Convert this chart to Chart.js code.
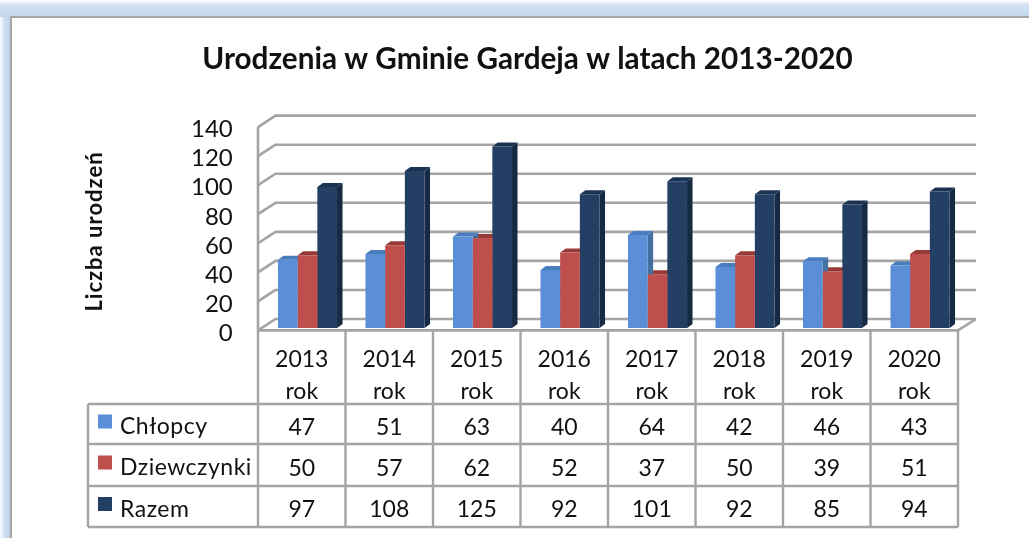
<!DOCTYPE html>
<html><head><meta charset="utf-8">
<style>
html,body{margin:0;padding:0;background:#fff;width:1029px;height:538px;overflow:hidden}
#band{position:absolute;left:0;top:0;width:1029px;height:538px;background:linear-gradient(to bottom,#fff 0,#d3e2f3 5px,#c3d7ee 16px,#c3d7ee 100%)}
#side{position:absolute;left:0;top:17px;width:11px;height:521px;background:linear-gradient(to right,#fff 0,#d3e2f3 4px,#bcd2ec 10px)}
#inner{position:absolute;left:10px;top:16px;width:1019px;height:522px;background:#fff;border-left:2px solid #a6a6a6;border-top:2px solid #a6a6a6;box-sizing:border-box}
canvas{position:absolute;left:0;top:0;filter:blur(0.45px)}
</style>
<script src="https://cdn.jsdelivr.net/npm/chart.js@4"></script>
</head><body>
<div id="band"></div><div id="side"></div><div id="inner"></div>
<canvas id="c" width="1029" height="538"></canvas>
<script>
const titleText = 'Urodzenia w Gminie Gardeja w latach 2013-2020';
const yTitle = 'Liczba urodzeń';
const years = ['2013','2014','2015','2016','2017','2018','2019','2020'];
const unit = 'rok';
const boys = [47,51,63,40,64,42,46,43];
const girls = [50,57,62,52,37,50,39,51];
const total = [97,108,125,92,101,92,85,94];
const seriesNames = ['Chłopcy','Dziewczynki','Razem'];
const seriesValues = [boys,girls,total];
const colors = ['#5a8fd8','#bf4f4c','#233f63'];
const topColors = ['#4a7cc0','#973b39','#1b3352'];
const sideColors = ['#44709f','#8a3533','#162a44'];
const FONT = 'Lato, Carlito, sans-serif';
const GRID = '#a4a4a4';

// geometry of the pseudo-3D room and the data table (offsets, not data)
const barShift = 5.75, depthX = 5.5, depthY = 4;
const tableRows = [404,444,486,527], tableLeft = 88;

const room = {
  id:'room',
  beforeDatasetsDraw(chart){
    const {ctx,scales:{x,y}} = chart;
    const l = x.left - barShift, r = x.right - barShift;
    ctx.save();
    ctx.strokeStyle = GRID; ctx.lineWidth = 2.6; ctx.lineJoin='round';
    y.ticks.forEach(t=>{
      const p = y.getPixelForValue(t.value);
      ctx.beginPath();
      ctx.moveTo(l, p+2.4);
      ctx.lineTo(l+17.5, p-9);
      ctx.lineTo(r+18, p-9);
      ctx.stroke();
    });
    const p0 = y.getPixelForValue(0), pm = y.getPixelForValue(y.max);
    ctx.beginPath();
    ctx.moveTo(l, pm+2.4); ctx.lineTo(l, p0+2.4); ctx.lineTo(r, p0+2.4); ctx.lineTo(r+18, p0-9);
    ctx.stroke();
    // depth faces, back series first
    for(let d=chart.data.datasets.length-1;d>=0;d--){
      chart.getDatasetMeta(d).data.forEach(b=>{
        const L=b.x-b.width/2, R=b.x+b.width/2, T=b.y, B=b.base;
        ctx.fillStyle = sideColors[d];
        ctx.beginPath();
        ctx.moveTo(R,T); ctx.lineTo(R+depthX,T-depthY); ctx.lineTo(R+depthX,B-depthY); ctx.lineTo(R,B); ctx.closePath(); ctx.fill();
        ctx.fillStyle = topColors[d];
        ctx.beginPath();
        ctx.moveTo(L,T); ctx.lineTo(L+depthX,T-depthY); ctx.lineTo(R+depthX,T-depthY); ctx.lineTo(R,T); ctx.closePath(); ctx.fill();
      });
    }
    ctx.restore();
  },
  afterDraw(chart){
    const {ctx,scales:{x}} = chart;
    const step = x.width/years.length;
    const left = x.left - barShift;
    const edge = i => left + step*i;
    ctx.save();
    ctx.strokeStyle = GRID; ctx.lineWidth = 2.4;
    for(let i=0;i<=years.length;i++){ ctx.beginPath(); ctx.moveTo(edge(i),331); ctx.lineTo(edge(i),tableRows[3]); ctx.stroke(); }
    tableRows.forEach(ty=>{ ctx.beginPath(); ctx.moveTo(tableLeft,ty); ctx.lineTo(edge(years.length),ty); ctx.stroke(); });
    ctx.beginPath(); ctx.moveTo(tableLeft,tableRows[0]); ctx.lineTo(tableLeft,tableRows[3]); ctx.stroke();
    ctx.font = '23px '+FONT; ctx.textBaseline='middle';
    seriesNames.forEach((n,r)=>{
      const cy = (tableRows[r]+tableRows[r+1])/2;
      ctx.fillStyle = colors[r];
      ctx.fillRect(98, cy-9.5, 14, 14);
      ctx.fillStyle = '#111';
      ctx.textAlign='left'; ctx.letterSpacing='0.5px';
      ctx.fillText(n,120,cy+3);
      ctx.letterSpacing='0px';
      ctx.textAlign='center';
      seriesValues[r].forEach((v,i)=>ctx.fillText(String(v),edge(i)+step/2,cy+3.5));
    });
    // value-axis title
    ctx.translate(94.5,231.5); ctx.rotate(-Math.PI/2);
    ctx.font = 'bold 22px '+FONT; ctx.letterSpacing='1px';
    ctx.textAlign='center'; ctx.fillStyle='#111';
    ctx.fillText(yTitle,0,0);
    ctx.restore();
  }
};

new Chart(document.getElementById('c'),{
  type:'bar',
  plugins:[room],
  data:{
    labels:years.map(y=>[y,unit]),
    datasets:seriesNames.map((n,i)=>({label:n,data:seriesValues[i],backgroundColor:colors[i],categoryPercentage:0.675,barPercentage:1}))
  },
  options:{
    responsive:false,animation:false,
    layout:{padding:{left:91.25,right:65.25,top:0,bottom:0}},
    plugins:{
      legend:{display:false},tooltip:{enabled:false},
      title:{display:true,text:titleText,color:'#111',font:{family:FONT,size:29.7,weight:'bold'},padding:{top:42,bottom:47},align:'center'}
    },
    scales:{
      x:{
        grid:{display:false},border:{display:false},
        afterFit(s){s.height=538-328;},
        ticks:{color:'#111',font:{family:FONT,size:23,lineHeight:1.4},padding:7,labelOffset:-barShift,autoSkip:false,maxRotation:0}
      },
      y:{
        min:0,max:140,
        grid:{display:false},border:{display:false},
        afterFit(s){s.width=172.5;},
        ticks:{color:'#111',font:{family:FONT,size:24},stepSize:20,padding:23,labelOffset:5,autoSkip:false}
      }
    }
  }
});
</script>
</body></html>
